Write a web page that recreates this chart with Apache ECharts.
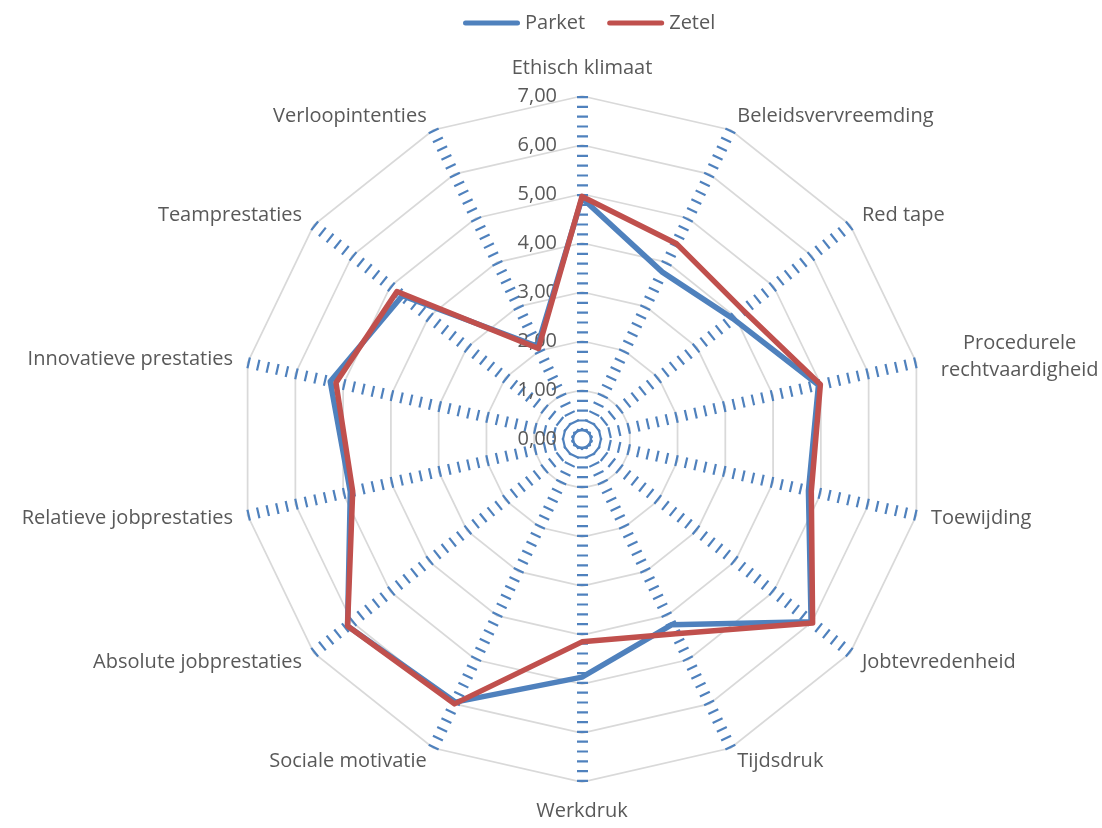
<!DOCTYPE html>
<html>
<head>
<meta charset="utf-8">
<title>Parket en Zetel</title>
<script src="https://cdn.jsdelivr.net/npm/echarts@6/dist/echarts.min.js"></script>
<style>
  html, body { margin: 0; padding: 0; background: #ffffff; }
  #chart { width: 1102px; height: 828px; }
</style>
</head>
<body>
<div id="chart"></div>
<script>
// Dimensions, listed clockwise starting at the top
const categories = [
  'Ethisch klimaat',
  'Beleidsvervreemding',
  'Red tape',
  'Procedurele\nrechtvaardigheid',
  'Toewijding',
  'Jobtevredenheid',
  'Tijdsdruk',
  'Werkdruk',
  'Sociale motivatie',
  'Absolute jobprestaties',
  'Relatieve jobprestaties',
  'Innovatieve prestaties',
  'Teamprestaties',
  'Verloopintenties'
];

const parket = [4.92, 3.78, 3.94, 4.95, 4.74, 5.98, 4.21, 4.86, 5.96, 6.12, 4.85, 5.27, 4.69, 2.10];
const zetel  = [4.95, 4.43, 4.21, 4.99, 4.80, 6.02, 4.41, 4.14, 6.00, 6.12, 4.80, 5.15, 4.83, 2.05];

const ringLabels = ['0,00', '1,00', '2,00', '3,00', '4,00', '5,00', '6,00', '7,00'];

const FONT = "'Open Sans', 'Liberation Sans', sans-serif";
const TEXT = '#595959';
const BLUE = '#4f81bd';
const RED = '#c0504d';

// A few names sit a little further from their spoke end than the default gap
const nameGapFor = {
  'Ethisch klimaat': 18,
  'Werkdruk': 19,
  'Procedurele\nrechtvaardigheid': 25
};

// ECharts places radar indicators counter-clockwise, so keep the first and walk the rest backwards
const order = [0].concat(categories.map((_, i) => i).slice(1).reverse());
const pick = arr => order.map(i => arr[i]);

const indicators = order.map((i, k) => {
  const name = categories[i];
  const ind = { name: name, min: 0, max: ringLabels.length - 1 };
  if (nameGapFor[name] != null) ind.nameGap = nameGapFor[name];
  if (k === 0) ind.axisLabel = { show: true };
  return ind;
});

const legendIcon = 'path://M2.5,0 H54.5 A2.5,2.5 0 0 1 54.5,5 H2.5 A2.5,2.5 0 0 1 2.5,0 Z';

const seriesLine = color => ({ color: color, width: 5.5, join: 'round', cap: 'round' });

const chart = echarts.init(document.getElementById('chart'), null, { renderer: 'canvas' });
chart.setOption({
  animation: false,
  backgroundColor: '#ffffff',
  legend: {
    top: 8,
    left: 458,
    itemWidth: 57,
    itemHeight: 5,
    itemGap: 22,
    icon: legendIcon,
    textStyle: { color: TEXT, fontSize: 20, fontFamily: FONT },
    data: ['Parket', 'Zetel']
  },
  radar: {
    center: [582, 439],
    radius: 343,
    startAngle: 90,
    splitNumber: 7,
    shape: 'polygon',
    indicator: indicators,
    nameGap: 15,
    axisName: {
      color: TEXT,
      fontSize: 20,
      fontFamily: FONT,
      formatter: name => name.indexOf('\n') >= 0
        ? name.split('\n').map(s => '{c|' + s + '}').join('\n')
        : name,
      rich: {
        c: { align: 'center', color: TEXT, fontSize: 20, fontFamily: FONT, lineHeight: 27 }
      }
    },
    axisLine: {
      // short thick dashes across each spoke, one every fifth of a unit
      lineStyle: { color: BLUE, width: 11, type: [2.2, 7.6], dashOffset: 2.2, cap: 'butt' }
    },
    splitLine: {
      lineStyle: { color: '#d9d9d9', width: 1.75 }
    },
    splitArea: { show: false },
    axisTick: { show: false },
    axisLabel: {
      show: false,
      margin: 25,
      color: TEXT,
      fontSize: 20,
      fontFamily: FONT,
      formatter: v => ringLabels[Math.round(v)]
    }
  },
  series: [{
    type: 'radar',
    symbol: 'none',
    lineStyle: { width: 5.5, join: 'round', cap: 'round' },
    data: [
      {
        name: 'Parket',
        value: pick(parket),
        itemStyle: { color: BLUE },
        lineStyle: seriesLine(BLUE)
      },
      {
        name: 'Zetel',
        value: pick(zetel),
        itemStyle: { color: RED },
        lineStyle: seriesLine(RED)
      }
    ]
  }]
});
</script>
</body>
</html>
